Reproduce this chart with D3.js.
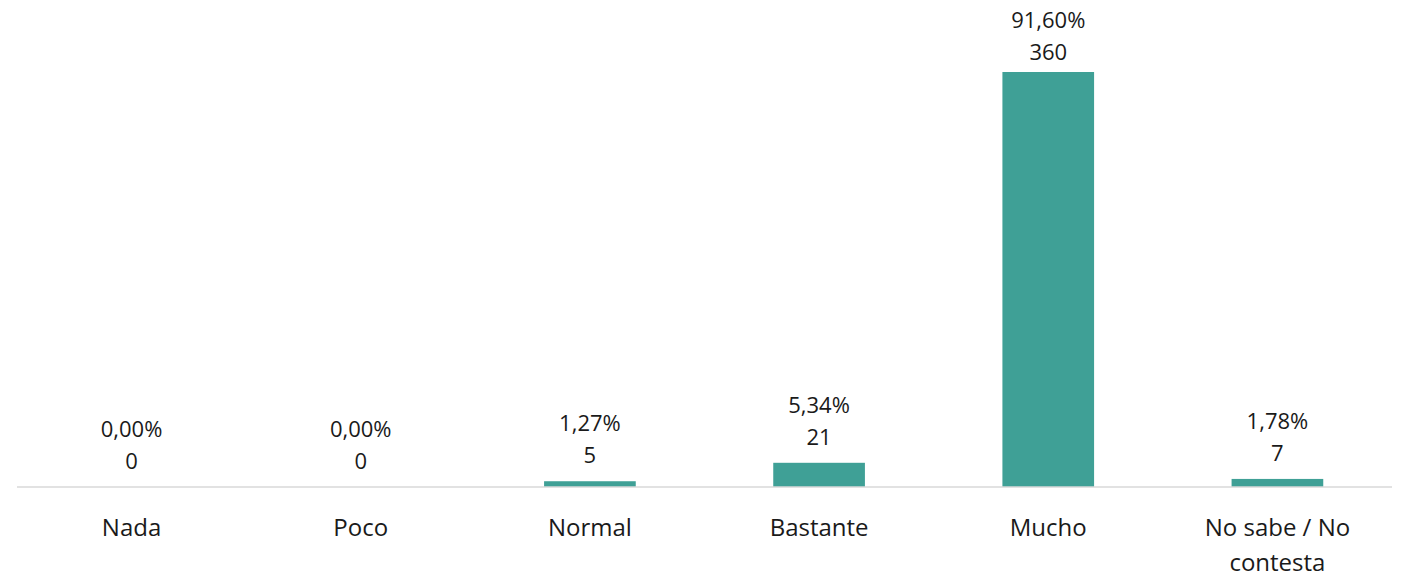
<!DOCTYPE html>
<html>
<head>
<meta charset="utf-8">
<script src="https://cdn.jsdelivr.net/npm/d3@7"></script>
<style>
  html, body { margin: 0; padding: 0; background: #fff; }
  svg text { font-family: "Open Sans", "Noto Sans", sans-serif; fill: #1a1a1a; }
</style>
</head>
<body>
<svg id="chart" width="1402" height="578"></svg>
<script>
const categories = ["Nada", "Poco", "Normal", "Bastante", "Mucho", "No sabe / No contesta"];
const counts = [0, 0, 5, 21, 360, 7];
const percents = ["0,00%", "0,00%", "1,27%", "5,34%", "91,60%", "1,78%"];

const svg = d3.select("#chart");
const margin = { left: 17, right: 10, top: 72, bottom: 91 };
const width = 1402, height = 578;
const baseY = height - margin.bottom;

const x = d3.scaleBand()
  .domain(categories)
  .range([margin.left, width - margin.right])
  .paddingInner(0.6)
  .paddingOuter(0.3);

const y = d3.scaleLinear()
  .domain([0, 360])
  .range([baseY, margin.top]);

// bars
svg.append("g").selectAll("rect")
  .data(categories)
  .join("rect")
  .attr("x", d => x(d))
  .attr("width", x.bandwidth())
  .attr("y", (d, i) => y(counts[i]))
  .attr("height", (d, i) => baseY - y(counts[i]))
  .attr("fill", "#3fa096");

// baseline axis
const axis = svg.append("g")
  .attr("transform", `translate(0,${baseY})`)
  .call(d3.axisBottom(x).tickSize(0).tickPadding(0));
axis.select(".domain").attr("stroke", "#d9d9d9").attr("stroke-width", 1.5)
  .attr("d", `M${margin.left},0H${width - margin.right}`);
axis.selectAll(".tick text").remove();

// category labels, wrapped to the band width
const wrapWidth = 170;
axis.selectAll(".tick").each(function(d) {
  const t = d3.select(this).append("text")
    .attr("text-anchor", "middle")
    .attr("font-size", 24)
    .attr("y", 49);
  const words = d.split(" ");
  let line = [];
  let tspan = t.append("tspan").attr("x", 0).attr("dy", 0);
  for (const w of words) {
    line.push(w);
    tspan.text(line.join(" "));
    if (tspan.node().getComputedTextLength() > wrapWidth && line.length > 1) {
      line.pop();
      tspan.text(line.join(" "));
      line = [w];
      tspan = t.append("tspan").attr("x", 0).attr("dy", 35).text(w);
    }
  }
});

// value labels: percentage above count, kept inside the top edge
const labels = svg.append("g").selectAll("g")
  .data(categories)
  .join("g")
  .attr("transform", (d, i) => `translate(${x(d) + x.bandwidth() / 2},${Math.max(y(counts[i]) - 18, 60)})`);
labels.append("text")
  .attr("text-anchor", "middle")
  .attr("font-size", 22)
  .text((d, i) => counts[i]);
labels.append("text")
  .attr("text-anchor", "middle")
  .attr("font-size", 22)
  .attr("y", -32)
  .text((d, i) => percents[i]);
</script>
</body>
</html>
